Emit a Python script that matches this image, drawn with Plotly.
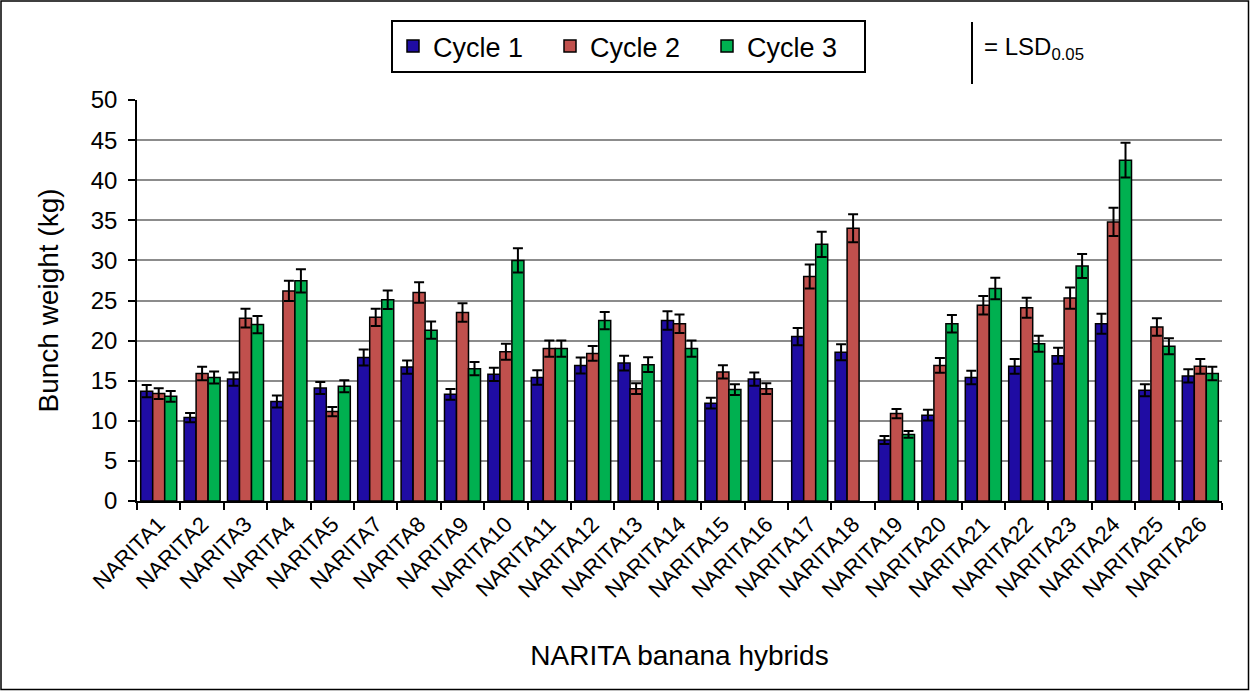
import plotly.graph_objects as go

categories = ["NARITA1", "NARITA2", "NARITA3", "NARITA4", "NARITA5", "NARITA7", "NARITA8",
              "NARITA9", "NARITA10", "NARITA11", "NARITA12", "NARITA13", "NARITA14", "NARITA15",
              "NARITA16", "NARITA17", "NARITA18", "NARITA19", "NARITA20", "NARITA21", "NARITA22",
              "NARITA23", "NARITA24", "NARITA25", "NARITA26"]

cycle1 = [13.7, 10.4, 15.2, 12.4, 14.1, 17.9, 16.7, 13.3, 15.8, 15.4, 16.9, 17.2, 22.5, 12.2,
          15.2, 20.5, 18.55, 7.6, 10.7, 15.4, 16.8, 18.1, 22.1, 13.8, 15.6]
cycle2 = [13.4, 15.9, 22.8, 26.2, 11.15, 22.9, 26.0, 23.5, 18.6, 19.0, 18.4, 14.0, 22.1, 16.1,
          14.0, 28.0, 34.0, 10.9, 16.9, 24.4, 24.1, 25.3, 34.8, 21.7, 16.8]
cycle3 = [13.06, 15.4, 22.0, 27.45, 14.3, 25.1, 21.3, 16.5, 30.0, 19.0, 22.5, 17.0, 19.0, 13.9,
          None, 32.0, None, 8.3, 22.1, 26.5, 19.6, 29.3, 42.5, 19.3, 15.9]

err1 = [0.75, 0.58, 0.83, 0.75, 0.75, 1.0, 0.83, 0.67, 0.83, 0.9, 1.0, 0.92, 1.16, 0.67,
        0.83, 1.08, 1.0, 0.5, 0.67, 0.83, 0.92, 1.0, 1.25, 0.75, 0.83]
err2 = [0.67, 0.83, 1.16, 1.25, 0.58, 1.08, 1.29, 1.16, 1.0, 1.0, 0.92, 0.67, 1.16, 0.83,
        0.67, 1.5, 1.75, 0.58, 0.92, 1.16, 1.25, 1.33, 1.75, 1.08, 0.92]
err3 = [0.67, 0.75, 1.08, 1.46, 0.75, 1.16, 1.08, 0.83, 1.5, 1.0, 1.08, 0.92, 1.0, 0.67,
        0, 1.58, 0, 0.42, 1.08, 1.33, 1.0, 1.5, 2.16, 1.0, 0.83]

series_names = ["Cycle 1", "Cycle 2", "Cycle 3"]
colors = ["#1F0CA3", "#C0504D", "#00B050"]

fig = go.Figure()
for name, vals, errs, col in zip(series_names, [cycle1, cycle2, cycle3], [err1, err2, err3], colors):
    fig.add_trace(go.Bar(
        x=categories, y=vals, name=name,
        marker=dict(color=col, line=dict(color="black", width=1.5)),
        error_y=dict(type="data", array=errs, visible=True, color="black", thickness=2, width=5),
    ))

W, H = 1250, 691
ml, mr, mt, mb = 137, 28, 100, 190
pw, ph = W - ml - mr, H - mt - mb

fig.update_layout(
    width=W, height=H,
    margin=dict(l=ml, r=mr, t=mt, b=mb),
    paper_bgcolor="white", plot_bgcolor="white",
    barmode="group", bargap=0.17, bargroupgap=0,
    font=dict(family="Arial, Liberation Sans, sans-serif", color="black"),
    showlegend=True,
    legend=dict(orientation="h", x=(391 - ml) / pw, y=1 + (mt - 20) / ph,
                xanchor="left", yanchor="top",
                bordercolor="black", borderwidth=2, bgcolor="white",
                font=dict(size=27), itemwidth=30, tracegroupgap=0,
                entrywidth=112, entrywidthmode="pixels"),
    xaxis=dict(
        showline=True, linecolor="black", linewidth=1.5,
        ticks="outside", ticklen=7, tickcolor="black", tickwidth=1.5,
        tickson="boundaries", tickangle=-45,
        tickfont=dict(size=22),
        title=dict(text="NARITA banana hybrids", font=dict(size=28), standoff=44),
        showgrid=False,
    ),
    yaxis=dict(
        range=[0, 50], dtick=5,
        showline=True, linecolor="black", linewidth=1.5,
        ticks="outside", ticklen=7, tickcolor="black", tickwidth=1.5,
        tickfont=dict(size=24), ticklabelstandoff=6,
        gridcolor="#8C8C8C", gridwidth=1.5,
        zeroline=False,
        title=dict(text="Bunch weight (kg)", font=dict(size=28), standoff=24),
    ),
    shapes=[
        dict(type="rect", xref="paper", yref="paper",
             x0=-(ml - 1) / pw, x1=1 + (mr - 1.5) / pw,
             y0=-(mb - 1.5) / ph, y1=1 + (mt - 1) / ph,
             line=dict(color="black", width=1.5), fillcolor="rgba(0,0,0,0)", layer="below"),
        dict(type="line", xref="paper", yref="paper",
             x0=(972 - ml) / pw, x1=(972 - ml) / pw,
             y0=1 + (mt - 84) / ph, y1=1 + (mt - 22) / ph,
             line=dict(color="black", width=2)),
    ],
    annotations=[
        dict(text="= LSD<sub>0.05</sub>", xref="paper", yref="paper",
             x=(982 - ml) / pw, y=1 + (mt - 48) / ph, xanchor="left", yanchor="middle",
             showarrow=False, font=dict(size=24)),
    ],
)

fig.write_html("out.html", config={"displayModeBar": False},
               post_script="document.body.style.margin='0px';")
